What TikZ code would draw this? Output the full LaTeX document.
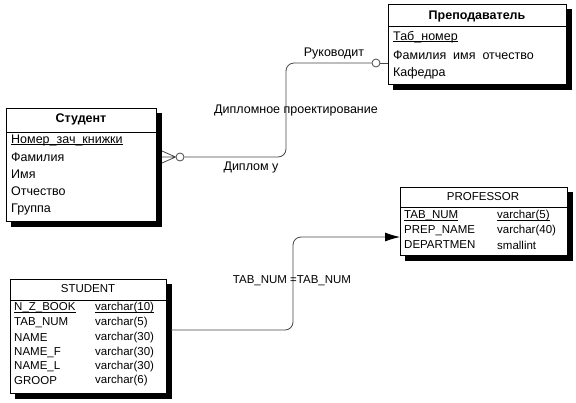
\documentclass[tikz,border=0pt]{standalone}
\usepackage{fontspec}
\setmainfont{Liberation Sans}
\usetikzlibrary{arrows.meta}
\newcommand\myul[1]{\setbox0\hbox{#1}\rlap{\rule[-2.1pt]{\wd0}{0.9pt}}\box0}
\begin{document}
\begin{tikzpicture}[x=1pt,y=-1pt,
  ent/.style={draw=black, line width=0.9pt, fill=white, anchor=north west, inner sep=0pt},
  shadowline/.style={draw=black, line width=5pt, line cap=butt},
  txt/.style={anchor=west, inner sep=0pt, font=\fontsize{11.5}{13}\selectfont},
  rtxt/.style={anchor=west, inner sep=0pt, font=\fontsize{12.5}{14}\selectfont},
  hdr/.style={inner sep=0pt, font=\fontsize{11.5}{13}\selectfont},
  rhdr/.style={inner sep=0pt, font=\fontsize{12.5}{14}\selectfont\bfseries},
  lbl/.style={inner sep=0pt, font=\fontsize{12.5}{14}\selectfont},
  conn/.style={draw=black!72, line width=0.8pt, rounded corners=8pt},
  ring/.style={circle, draw=black!72, line width=0.8pt, fill=white, minimum size=8pt, inner sep=0pt}]
\fill[white] (0,0) rectangle (576,402);
\useasboundingbox (0,0) rectangle (576,402);

% Преподаватель
\node[ent, minimum width=178pt, minimum height=80pt] (prep) at (388,4) {};
\draw[line width=0.9pt] (388,26) -- (566,26);
\node[rhdr] (preph) at (477,16) {Преподаватель};
\node[rtxt] (prep1) at (393,37) {\myul{Таб\_номер}};
\node[rtxt] (prep2) at (393,55) {Фамилия\ \ имя\ \ отчество};
\node[rtxt] (prep3) at (393,73) {Кафедра};

% Студент
\node[ent, minimum width=150pt, minimum height=113pt] (stud) at (6,108) {};
\draw[line width=0.9pt] (6,132) -- (156,132);
\node[rhdr] (studh) at (81,119) {Студент};
\node[rtxt] (stud1) at (11,140) {\myul{Номер\_зач\_книжки}};
\node[rtxt] (stud2) at (11,157) {Фамилия};
\node[rtxt] (stud3) at (11,174) {Имя};
\node[rtxt] (stud4) at (11,191) {Отчество};
\node[rtxt] (stud5) at (11,209) {Группа};

% PROFESSOR
\node[ent, minimum width=167pt, minimum height=68pt] (prof) at (400,187) {};
\draw[line width=0.9pt] (400,207) -- (567,207);
\node[hdr] (profh) at (483,197) {PROFESSOR};
\node[txt] (prof1) at (404,216) {\myul{TAB\_NUM}};
\node[txt] (prof1b) at (497,216) {\myul{varchar(5)}};
\node[txt] (prof2) at (404,231) {PREP\_NAME};
\node[txt] (prof2b) at (497,231) {varchar(40)};
\node[txt] (prof3) at (404,245) {DEPARTMEN};
\node[txt] (prof3b) at (497,245) {smallint};

% STUDENT
\node[ent, minimum width=156pt, minimum height=114pt] (studE) at (10,279) {};
\draw[line width=0.9pt] (10,300) -- (166,300);
\node[hdr] (studEh) at (88,289) {STUDENT};
\node[txt] (s1) at (14,308) {\myul{N\_Z\_BOOK}};
\node[txt] (s1b) at (95,308) {\myul{varchar(10)}};
\node[txt] (s2) at (14,323) {TAB\_NUM};
\node[txt] (s2b) at (95,323) {varchar(5)};
\node[txt] (s3) at (14,338) {NAME};
\node[txt] (s3b) at (95,338) {varchar(30)};
\node[txt] (s4) at (14,353) {NAME\_F};
\node[txt] (s4b) at (95,353) {varchar(30)};
\node[txt] (s5) at (14,367) {NAME\_L};
\node[txt] (s5b) at (95,367) {varchar(30)};
\node[txt] (s6) at (14,381) {GROOP};
\node[txt] (s6b) at (95,381) {varchar(6)};

% shadows as thick strokes
\draw[shadowline] (569,9) -- (569,89.5) (393,87) -- (571.5,87);
\draw[shadowline] (159,113) -- (159,226.5) (11,224) -- (161.5,224);
\draw[shadowline] (570,192) -- (570,260.5) (405,258) -- (572.5,258);
\draw[shadowline] (169,284) -- (169,398.5) (15,396) -- (171.5,396);

% Top relationship
\coordinate (cf1) at (162,151);
\coordinate (cf2) at (162,157);
\coordinate (cf3) at (162,163);
\node[ring] (o1) at (180,157) {};
\node[ring] (o2) at (376,63) {};
\draw[conn] (cf1) -- (o1.west) (cf2) -- (o1.west) (cf3) -- (o1.west);
\draw[conn] (o1.east) -- (286,157) -- (286,63) -- (o2.west);
\draw[conn] (o2.east) -- (o2 -| prep.west);
\node[lbl] (l1) at (334,53) {Руководит};
\node[lbl] (l2) at (296,110) {Дипломное проектирование};
\node[lbl] (l3) at (251,167) {Диплом у};

% Bottom relationship
\coordinate (b0) at (171,330);
\coordinate (b1) at (293,237);
\draw[conn, -{Latex[length=15pt,width=9pt,black]}] (b0) -- (293,330) -- (b1) -- (b1 -| prof.west);
\node[lbl, font=\fontsize{11.5}{13}\selectfont] (l4) at (292,281) {TAB\_NUM =TAB\_NUM};
\end{tikzpicture}
\end{document}
